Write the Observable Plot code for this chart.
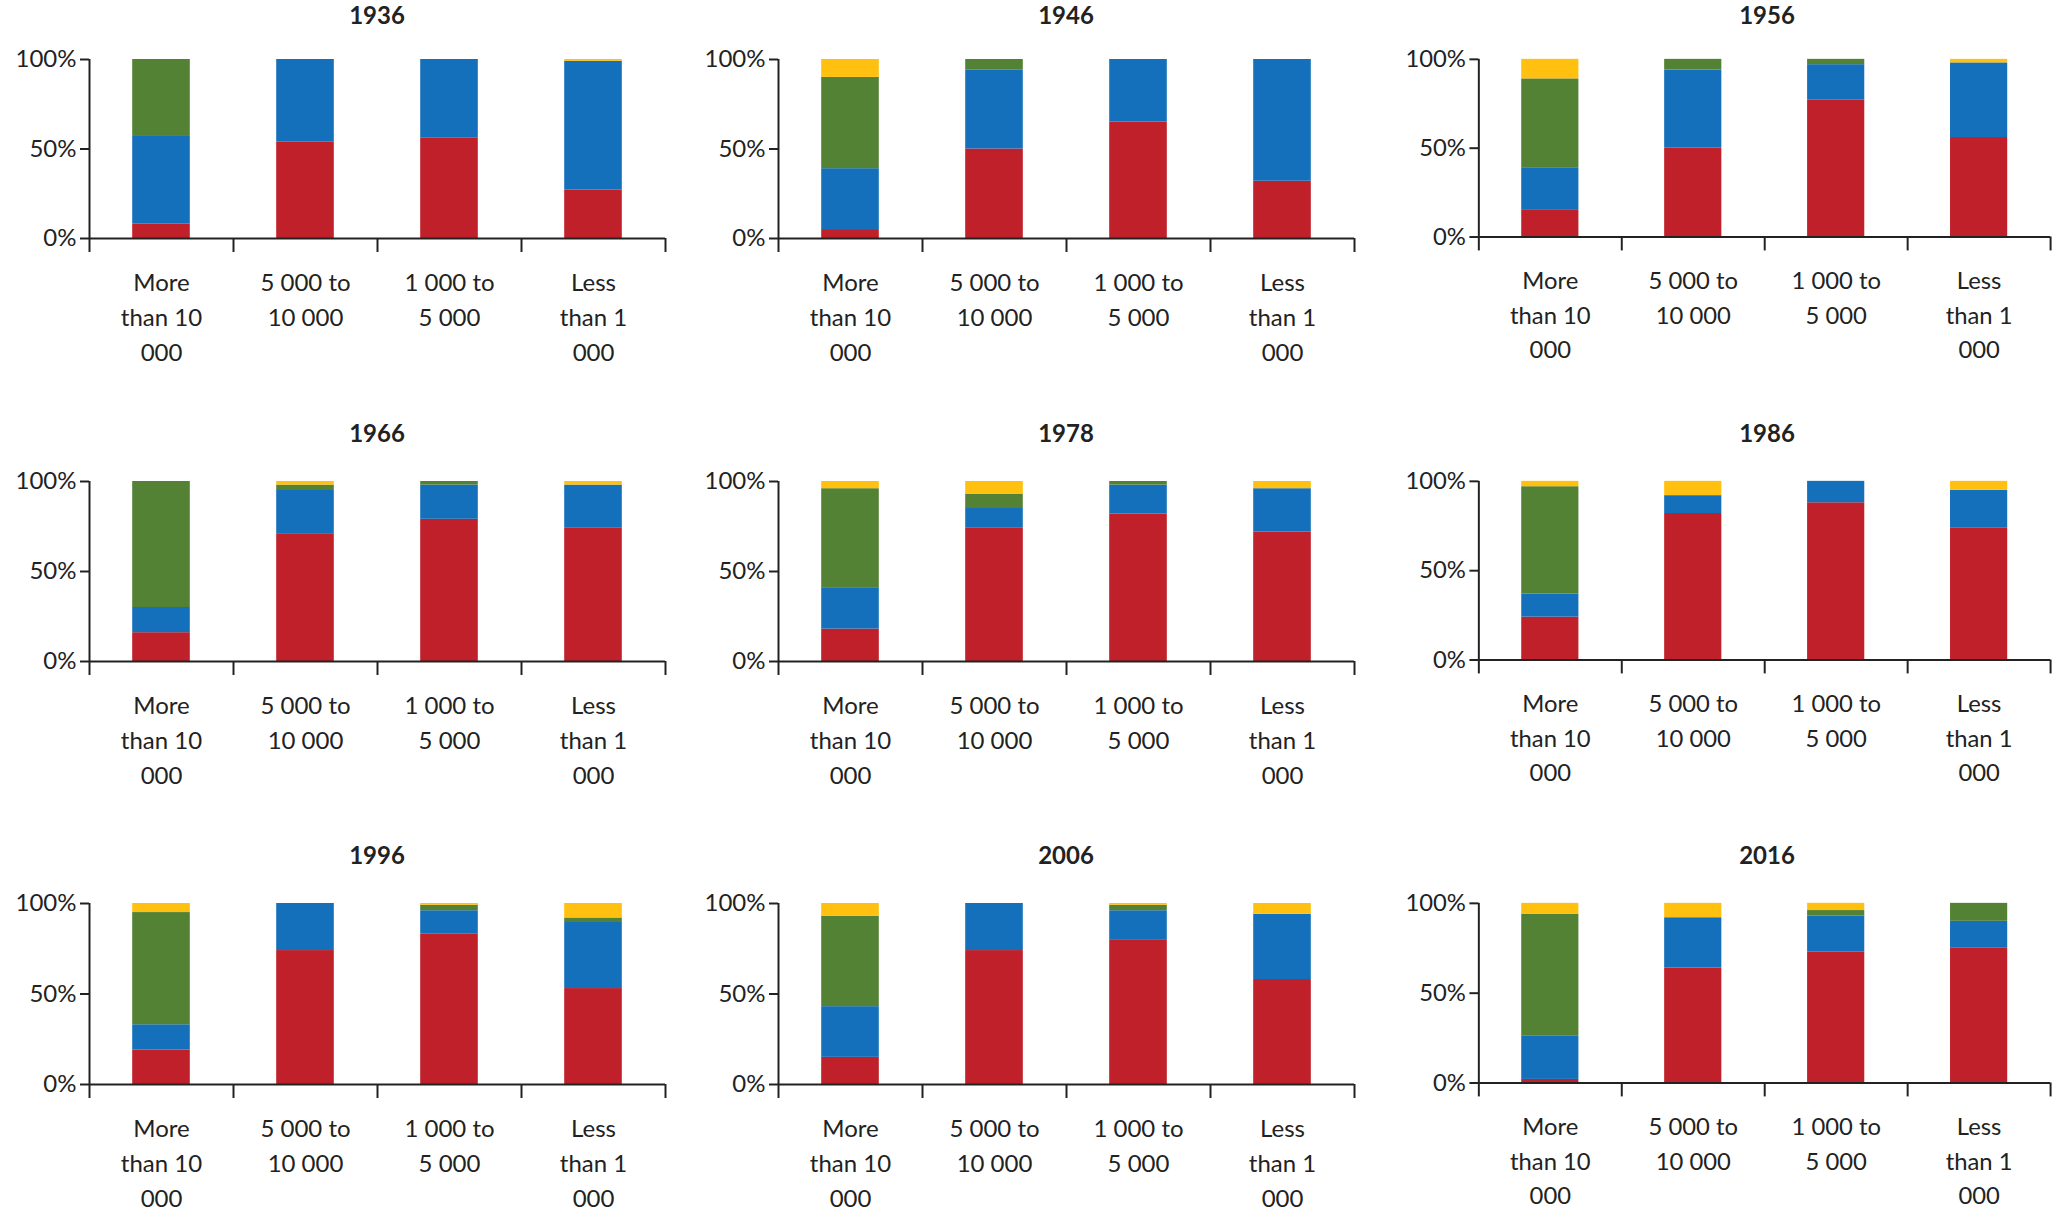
<!DOCTYPE html>
<html><head><meta charset="utf-8">
<script src="https://cdn.jsdelivr.net/npm/d3@7"></script>
<script src="https://cdn.jsdelivr.net/npm/@observablehq/plot@0.6"></script>
<style>
body{margin:0;background:#fff;font-family:Lato,"Open Sans",sans-serif;}
#root{position:relative;width:2062px;height:1211px;overflow:hidden;}
.panel{position:absolute;}
.title{position:absolute;font-weight:bold;font-size:24px;color:#222;text-align:center;}
</style></head><body><div id="root"></div>
<script>
const years = ["1936","1946","1956","1966","1978","1986","1996","2006","2016"];
const categories = ["More\nthan 10\n000","5 000 to\n10 000","1 000 to\n5 000","Less\nthan 1\n000"];
const seriesNames = ["red","blue","green","yellow"];
const colors = ["#c0202a","#1570bb","#548235","#ffc010"];
// values per year: for each category [red, blue, green, yellow] in %
const red = [
  [8,54,56,27],[5,50,65,32],[15,50,77,56],
  [16,71,79,74],[18,74,82,72],[24,82,88,74],
  [19,74,83,53],[15,74,80,58],[2,64,73,75]];
const blue = [
  [49,46,44,72],[34,44,35,68],[24,44,20,42],
  [14,24,19,24],[23,11,16,24],[13,10,12,21],
  [14,26,13,37],[28,26,16,36],[24,28,20,15]];
const green = [
  [43,0,0,0],[51,6,0,0],[50,6,3,0],
  [70,3,2,0],[55,8,2,0],[60,0,0,0],
  [62,0,3,2],[50,0,3,0],[68,0,3,10]];
const yellow = [
  [0,0,0,1],[10,0,0,0],[11,0,0,2],
  [0,2,0,2],[4,7,0,4],[3,8,0,5],
  [5,0,1,8],[7,0,1,6],[6,8,4,0]];
const yTicks = [0,50,100];

const colAxisX = [89,778,1479];
const rowTitleY = [0,418,840];
const rowTopY = [59,481,903];
const rowZeroY = [238,661,1084];
const root = document.getElementById("root");

years.forEach((yr,i)=>{
  const r = Math.floor(i/3), c = i%3;
  const rows = [];
  categories.forEach((cat,j)=>{
    let base = 0;
    [red,blue,green,yellow].forEach((s,k)=>{
      const v = s[i][j];
      if (v>0) rows.push({j, y1: base, y2: base+v, k});
      base += v;
    });
  });
  const mt = 20, ih = rowZeroY[r]-rowTopY[r];
  const chart = Plot.plot({
    width: 89+576+12, height: mt+ih+150,
    marginLeft: 89, marginRight: 12, marginTop: mt, marginBottom: 150,
    style:{fontFamily:"Lato, 'Open Sans', sans-serif", fontSize:"24px", color:"#222", background:"white"},
    x:{domain:[0,4]}, y:{domain:[0,100]},
    marks:[
      Plot.rectY(rows,{x1:d=>d.j+0.3,x2:d=>d.j+0.7,y1:"y1",y2:"y2",fill:d=>colors[d.k]}),
      Plot.ruleX([0],{stroke:"#222",strokeWidth:2}),
      Plot.ruleY([0],{stroke:"#222",strokeWidth:2}),
      Plot.axisY({ticks:yTicks,tickSize:9,tickFormat:d=>d+"%",fontSize:24,tickPadding:4,label:null,stroke:"#222",strokeWidth:2}),
      Plot.axisX({ticks:[0,1,2,3,4],tickSize:14,tickFormat:()=>"",label:null,stroke:"#222",strokeWidth:2}),
      Plot.text(categories,{x:(d,j)=>j+0.5,y:0,text:d=>d,dy:28,lineAnchor:"top",lineHeight:1.45,fontSize:24,fill:"#222"})
    ]
  });
  const div = document.createElement("div");
  div.className="panel";
  div.style.left=(colAxisX[c]-89)+"px";
  div.style.top=(rowTopY[r]-mt)+"px";
  div.appendChild(chart);
  root.appendChild(div);
  const t = document.createElement("div");
  t.className="title";
  t.textContent=yr;
  t.style.left=(colAxisX[c])+"px";
  t.style.width="576px";
  t.style.top=rowTitleY[r]+"px";
  root.appendChild(t);
});
</script></body></html>
